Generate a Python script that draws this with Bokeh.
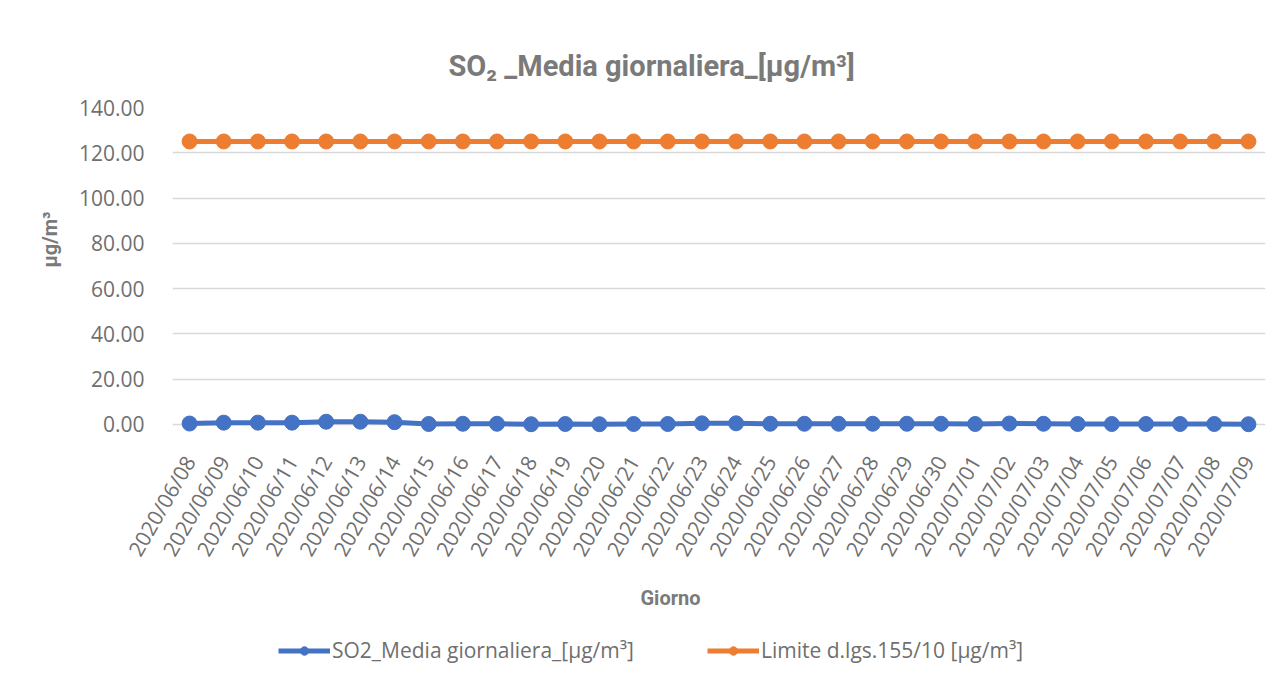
import math
from bokeh.plotting import figure
from bokeh.layouts import column
from bokeh.models import (Range1d, FactorRange, Legend, LegendItem, Title, Label,
                          ColumnDataSource, NumeralTickFormatter, FixedTicker)
from bokeh.embed import file_html
from bokeh.resources import INLINE

dates = ["2020/06/08", "2020/06/09", "2020/06/10", "2020/06/11", "2020/06/12",
         "2020/06/13", "2020/06/14", "2020/06/15", "2020/06/16", "2020/06/17",
         "2020/06/18", "2020/06/19", "2020/06/20", "2020/06/21", "2020/06/22",
         "2020/06/23", "2020/06/24", "2020/06/25", "2020/06/26", "2020/06/27",
         "2020/06/28", "2020/06/29", "2020/06/30", "2020/07/01", "2020/07/02",
         "2020/07/03", "2020/07/04", "2020/07/05", "2020/07/06", "2020/07/07",
         "2020/07/08", "2020/07/09"]
so2_media = [0.4, 0.8, 0.8, 0.8, 1.2, 1.2, 1.0, 0.2, 0.3, 0.3,
             0.1, 0.2, 0.1, 0.2, 0.2, 0.5, 0.5, 0.3, 0.3, 0.3,
             0.3, 0.3, 0.3, 0.2, 0.4, 0.3, 0.2, 0.2, 0.2, 0.2,
             0.2, 0.1]
limite = [125.0] * len(dates)
y_ticks = [0, 20, 40, 60, 80, 100, 120, 140]

title_text = "SO\u2082 _Media giornaliera_[\u00b5g/m\u00b3]"
y_title = "\u00b5g/m\u00b3"
x_title = "Giorno"
label_so2 = "SO2_Media giornaliera_[\u00b5g/m\u00b3]"
label_lim = "Limite d.lgs.155/10 [\u00b5g/m\u00b3]"

BLUE = "#4472C4"
ORANGE = "#ED7D31"
TXT = "#6f6f6f"
TTL = "#7a7a7a"
BODY = "Open Sans"
HEAD = "Roboto"
W = 1275
FL, FR = 172, 1265  # frame edges in px

src = ColumnDataSource(dict(d=dates, so2=so2_media, lim=limite))

# ---- main chart ----
p = figure(width=W, height=575, output_backend="svg", toolbar_location=None,
           x_range=FactorRange(*dates, range_padding=0),
           y_range=Range1d(-4, 140),
           min_border_left=FL, min_border_right=W - FR,
           min_border_top=107, min_border_bottom=142)
p.outline_line_color = None
p.background_fill_color = "white"
p.border_fill_color = "white"

p.title.text = title_text
p.title.align = "left"
p.title.offset = 276
p.title.text_font = HEAD
p.title.text_font_style = "bold"
p.title.text_font_size = "29px"
p.title.text_color = TTL
p.title.standoff = 50

p.xgrid.grid_line_color = None
p.ygrid.grid_line_color = "#d9d9d9"
p.ygrid.grid_line_width = 1.3

p.yaxis.ticker = FixedTicker(ticks=y_ticks)
p.yaxis.formatter = NumeralTickFormatter(format="0.00")
p.yaxis.axis_line_color = None
p.yaxis.major_tick_line_color = None
p.yaxis.minor_tick_line_color = None
p.yaxis.major_label_standoff = 22
p.yaxis.major_label_text_font = BODY
p.yaxis.major_label_text_font_size = "21px"
p.yaxis.major_label_text_color = TXT

p.xaxis.axis_line_color = None
p.xaxis.major_tick_line_color = None
p.xaxis.major_label_orientation = math.pi / 3
p.xaxis.major_label_standoff = 18
p.xaxis.major_label_text_font = BODY
p.xaxis.major_label_text_font_size = "21px"
p.xaxis.major_label_text_color = TXT

p.line("d", "so2", source=src, line_color=BLUE, line_width=5)
p.scatter("d", "so2", source=src, size=15, fill_color=BLUE, line_color=BLUE)
p.line("d", "lim", source=src, line_color=ORANGE, line_width=5)
p.scatter("d", "lim", source=src, size=15, fill_color=ORANGE, line_color=ORANGE)

p.add_layout(Title(text=y_title, align="left", offset=166, text_font=HEAD,
                   text_font_style="bold", text_font_size="20px",
                   text_color=TTL, standoff=28), "left")

# ---- bottom strip: axis title and legend (frame aligned with main frame) ----
H2 = 105
q = figure(width=W, height=H2, output_backend="svg", toolbar_location=None,
           x_range=Range1d(FL, FR), y_range=Range1d(0, H2),
           x_axis_location=None, y_axis_location=None, min_border=0)
q.outline_line_color = None
q.grid.visible = False
q.background_fill_color = "white"
q.border_fill_color = "white"

# legend proxies (single point placed outside the visible range)
e = ColumnDataSource(dict(x=[-1000], y=[-1000]))
ql1 = q.line("x", "y", source=e, line_color=BLUE, line_width=5)
qs1 = q.scatter("x", "y", source=e, size=14, fill_color=BLUE, line_color=BLUE)
ql2 = q.line("x", "y", source=e, line_color=ORANGE, line_width=5)
qs2 = q.scatter("x", "y", source=e, size=14, fill_color=ORANGE, line_color=ORANGE)

q.add_layout(Label(x=670, y=83, text=x_title, text_align="center",
                   text_baseline="middle", text_font=HEAD, text_font_style="bold",
                   text_font_size="20px", text_color=TTL))

def mk_legend(lbl, rends, x):
    lg = Legend(items=[LegendItem(label=lbl, renderers=rends)], location=(x, 16),
                glyph_width=52, glyph_height=21, label_height=21,
                label_standoff=2, padding=0, margin=0,
                border_line_alpha=0, background_fill_alpha=0,
                label_text_font=BODY, label_text_font_size="21px",
                label_text_color=TXT)
    q.add_layout(lg, "center")

mk_legend(label_so2, [ql1, qs1], 278 - FL)
mk_legend(label_lim, [ql2, qs2], 707 - FL)

open("out.html", "w").write(file_html(column(p, q, spacing=0), INLINE))
